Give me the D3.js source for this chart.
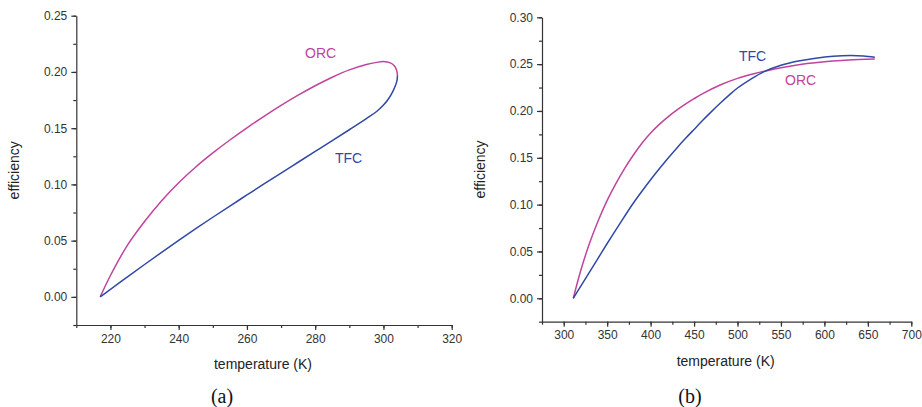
<!doctype html>
<html>
<head>
<meta charset="utf-8">
<style>
  body { margin: 0; background: #fff; }
  svg text { font-family: "Liberation Sans", Arial, sans-serif; }
</style>
</head>
<body>
<div id="chart"></div>
<script src="https://d3js.org/d3.v7.min.js"></script>
<script>
// panel (a): temperature (K) vs efficiency
var tempA = [217, 220, 225, 230, 235, 240, 245, 250, 255, 260, 265, 270, 275, 280, 285, 290, 295, 298, 300, 302, 303.3, 303.9, 304.1];
var orcA  = [0, 0.019, 0.046, 0.067, 0.0855, 0.1015, 0.1155, 0.128, 0.1395, 0.1503, 0.1605, 0.1702, 0.1793, 0.1877, 0.1953, 0.2018, 0.2066, 0.2085, 0.2092, 0.208, 0.205, 0.201, 0.197];
var tfcTempA = [217, 220, 225, 230, 235, 240, 245, 250, 255, 260, 265, 270, 275, 280, 285, 290, 295, 298, 300, 301.5, 302.8, 303.6, 304.0, 304.1];
var tfcA  = [0, 0.0066, 0.0178, 0.0288, 0.0396, 0.0502, 0.0606, 0.0708, 0.0808, 0.0906, 0.1004, 0.1101, 0.1197, 0.1293, 0.1389, 0.1486, 0.1585, 0.1648, 0.1705, 0.1762, 0.183, 0.1885, 0.193, 0.197];
var xTicksA = [220, 240, 260, 280, 300, 320];
var yTicksA = [0, 0.05, 0.10, 0.15, 0.20, 0.25];

// panel (b)
var tempB = [311, 320, 330, 340, 350, 360, 370, 380, 390, 400, 410, 420, 430, 440, 450, 460, 480, 500, 520, 540, 560, 580, 600, 620, 640, 658];
var orcB  = [0, 0.031, 0.0595, 0.0835, 0.1045, 0.1225, 0.1385, 0.1527, 0.1655, 0.1765, 0.1857, 0.1937, 0.2008, 0.2072, 0.2131, 0.2185, 0.2277, 0.2348, 0.2401, 0.2443, 0.2478, 0.2506, 0.2526, 0.254, 0.2549, 0.2555];
var tfcTempB = [311, 320, 330, 340, 350, 360, 370, 380, 390, 400, 410, 420, 430, 440, 450, 460, 470, 480, 490, 500, 515, 530, 550, 570, 590, 610, 630, 645, 658];
var tfcB  = [0, 0.0135, 0.0285, 0.0435, 0.0585, 0.073, 0.0875, 0.1015, 0.1143, 0.1265, 0.1382, 0.1495, 0.1603, 0.1705, 0.1803, 0.190, 0.1993, 0.2082, 0.2166, 0.2245, 0.2338, 0.2418, 0.2488, 0.2533, 0.2563, 0.2583, 0.2591, 0.2586, 0.2574];
var xTicksB = [300, 350, 400, 450, 500, 550, 600, 650, 700];
var yTicksB = [0, 0.05, 0.10, 0.15, 0.20, 0.25, 0.30];

var orcColor = "#c0449c", tfcColor = "#3049a6", axisColor = "#333";

var svg = d3.select("#chart").append("svg")
  .attr("width", 922)
  .attr("height", 407);

function panel(o) {
  var x = d3.scaleLinear().domain(o.xd).range(o.xr);
  var y = d3.scaleLinear().domain(o.yd).range(o.yr);
  var g = svg.append("g");

  // minor ticks
  var xMinor = [], yMinor = [];
  for (var v = o.xd[0]; v <= o.xd[1] + 1e-9; v += o.xMinorStep) xMinor.push(v);
  for (var k = 0; k <= Math.round((o.yd[1] - o.yd[0]) / 0.025); k++) yMinor.push(+(o.yd[0] + k * 0.025).toFixed(3));

  g.append("g").attr("transform", "translate(0," + o.yr[0] + ")")
    .call(d3.axisBottom(x).tickValues(xMinor).tickFormat("").tickSize(3).tickSizeOuter(0))
    .call(function(s) { s.select(".domain").remove(); });
  g.append("g").attr("transform", "translate(" + o.xr[0] + ",0)")
    .call(d3.axisLeft(y).tickValues(yMinor).tickFormat("").tickSize(3).tickSizeOuter(0))
    .call(function(s) { s.select(".domain").remove(); });

  g.append("g").attr("transform", "translate(0," + o.yr[0] + ")")
    .call(d3.axisBottom(x).tickValues(o.xt).tickFormat(d3.format("d")).tickSize(5).tickSizeOuter(0).tickPadding(4));
  g.append("g").attr("transform", "translate(" + o.xr[0] + ",0)")
    .call(d3.axisLeft(y).tickValues(o.yt).tickFormat(d3.format(".2f")).tickSize(5).tickSizeOuter(0).tickPadding(4));

  g.selectAll(".tick line, .domain").attr("stroke", axisColor).attr("stroke-width", 1.2);
  g.selectAll(".tick text").attr("fill", axisColor).style("font-size", "12px")
    .style("font-family", "'Liberation Sans', Arial, sans-serif");

  var line = d3.line().curve(d3.curveCatmullRom.alpha(0.5))
    .x(function(d) { return x(d[0]); })
    .y(function(d) { return y(d[1]); });

  g.append("path").datum(d3.zip(o.orcT, o.orc))
    .attr("d", line).attr("fill", "none").attr("stroke", orcColor).attr("stroke-width", 1.5);
  g.append("path").datum(d3.zip(o.tfcT, o.tfc))
    .attr("d", line).attr("fill", "none").attr("stroke", tfcColor).attr("stroke-width", 1.5);

  g.append("text").attr("x", o.orcLab[0]).attr("y", o.orcLab[1])
    .attr("fill", orcColor).style("font-size", "14px").text("ORC");
  g.append("text").attr("x", o.tfcLab[0]).attr("y", o.tfcLab[1])
    .attr("fill", tfcColor).style("font-size", "14px").text("TFC");

  g.append("text").attr("x", (o.xr[0] + o.xr[1]) / 2 - 1).attr("y", o.yr[0] + 44)
    .attr("text-anchor", "middle").attr("fill", "#222").style("font-size", "14px")
    .text("temperature (K)");
  g.append("text").attr("transform", "translate(" + o.ylabX + "," + ((o.yr[0] + o.yr[1]) / 2) + ") rotate(-90)")
    .attr("text-anchor", "middle").attr("fill", "#222").style("font-size", "14px")
    .text("efficiency");
  g.append("text").attr("x", o.capX).attr("y", 403)
    .attr("text-anchor", "middle").attr("fill", "#111")
    .style("font-family", "'Liberation Serif', 'Times New Roman', serif").style("font-size", "20px")
    .text(o.cap);
}

panel({
  xd: [210, 320], xr: [76.3, 451.7], yd: [-0.025, 0.25], yr: [325, 15.7],
  xt: xTicksA, yt: yTicksA, xMinorStep: 10,
  orcT: tempA, orc: orcA, tfcT: tfcTempA, tfc: tfcA,
  orcLab: [305, 58], tfcLab: [335, 163], ylabX: 19, capX: 222, cap: "(a)"
});
panel({
  xd: [275, 700], xr: [542, 911.3], yd: [-0.025, 0.30], yr: [321.7, 17.3],
  xt: xTicksB, yt: yTicksB, xMinorStep: 25,
  orcT: tempB, orc: orcB, tfcT: tfcTempB, tfc: tfcB,
  orcLab: [785, 85], tfcLab: [739, 61], ylabX: 485, capX: 690, cap: "(b)"
});
</script>
</body>
</html>
